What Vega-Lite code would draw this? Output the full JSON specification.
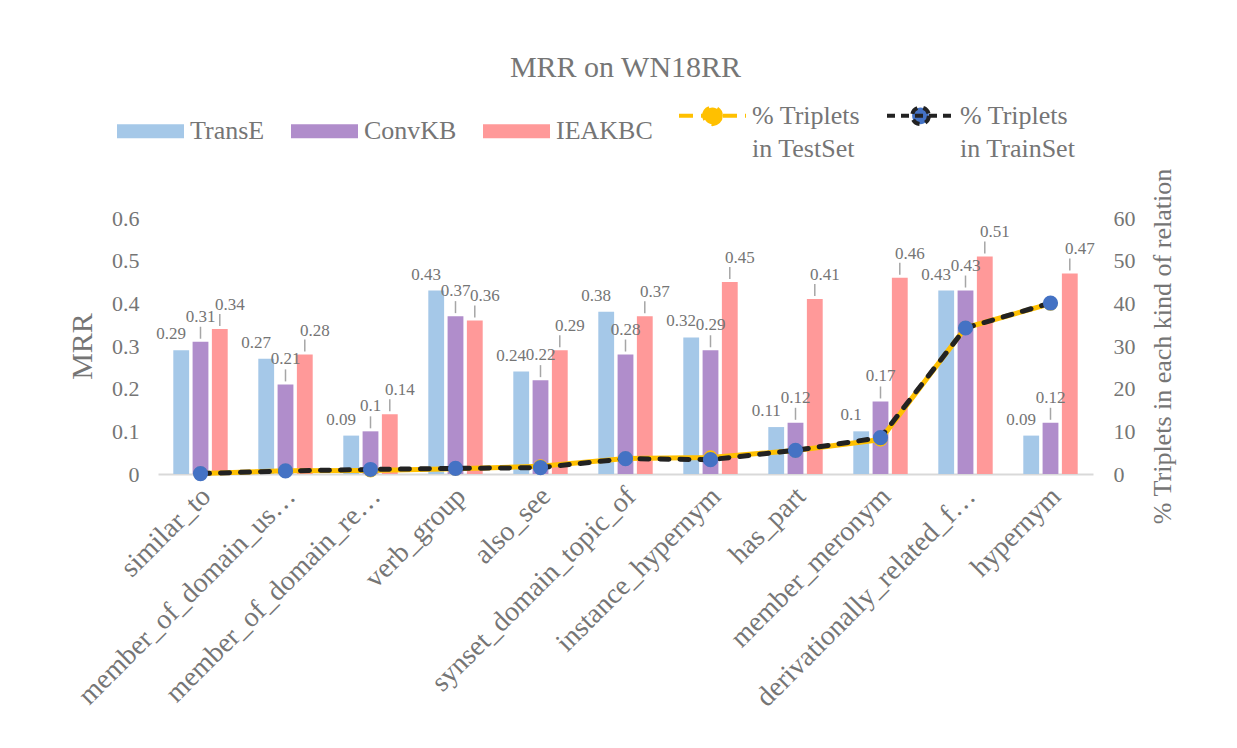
{
  "$schema": "https://vega.github.io/schema/vega-lite/v6.json",
  "width": 935,
  "height": 256,
  "autosize": "none",
  "padding": {"left": 158, "top": 218, "right": 144, "bottom": 274},
  "background": "white",
  "title": {"text": "MRR on WN18RR", "font": "Liberation Serif", "fontSize": 30, "fontWeight": "normal", "color": "#767676", "offset": -3, "anchor": "middle"},
  "datasets": {
    "bars": [
      {"rel": "similar_to", "series": "TransE", "mrr": 0.29},
      {"rel": "similar_to", "series": "ConvKB", "mrr": 0.31},
      {"rel": "similar_to", "series": "IEAKBC", "mrr": 0.34},
      {"rel": "member_of_domain_us…", "series": "TransE", "mrr": 0.27},
      {"rel": "member_of_domain_us…", "series": "ConvKB", "mrr": 0.21},
      {"rel": "member_of_domain_us…", "series": "IEAKBC", "mrr": 0.28},
      {"rel": "member_of_domain_re…", "series": "TransE", "mrr": 0.09},
      {"rel": "member_of_domain_re…", "series": "ConvKB", "mrr": 0.1},
      {"rel": "member_of_domain_re…", "series": "IEAKBC", "mrr": 0.14},
      {"rel": "verb_group", "series": "TransE", "mrr": 0.43},
      {"rel": "verb_group", "series": "ConvKB", "mrr": 0.37},
      {"rel": "verb_group", "series": "IEAKBC", "mrr": 0.36},
      {"rel": "also_see", "series": "TransE", "mrr": 0.24},
      {"rel": "also_see", "series": "ConvKB", "mrr": 0.22},
      {"rel": "also_see", "series": "IEAKBC", "mrr": 0.29},
      {"rel": "synset_domain_topic_of", "series": "TransE", "mrr": 0.38},
      {"rel": "synset_domain_topic_of", "series": "ConvKB", "mrr": 0.28},
      {"rel": "synset_domain_topic_of", "series": "IEAKBC", "mrr": 0.37},
      {"rel": "instance_hypernym", "series": "TransE", "mrr": 0.32},
      {"rel": "instance_hypernym", "series": "ConvKB", "mrr": 0.29},
      {"rel": "instance_hypernym", "series": "IEAKBC", "mrr": 0.45},
      {"rel": "has_part", "series": "TransE", "mrr": 0.11},
      {"rel": "has_part", "series": "ConvKB", "mrr": 0.12},
      {"rel": "has_part", "series": "IEAKBC", "mrr": 0.41},
      {"rel": "member_meronym", "series": "TransE", "mrr": 0.1},
      {"rel": "member_meronym", "series": "ConvKB", "mrr": 0.17},
      {"rel": "member_meronym", "series": "IEAKBC", "mrr": 0.46},
      {"rel": "derivationally_related_f…", "series": "TransE", "mrr": 0.43},
      {"rel": "derivationally_related_f…", "series": "ConvKB", "mrr": 0.43},
      {"rel": "derivationally_related_f…", "series": "IEAKBC", "mrr": 0.51},
      {"rel": "hypernym", "series": "TransE", "mrr": 0.09},
      {"rel": "hypernym", "series": "ConvKB", "mrr": 0.12},
      {"rel": "hypernym", "series": "IEAKBC", "mrr": 0.47}
    ],
    "lines": [
      {"rel": "similar_to", "series": "% Triplets in TestSet", "pct": 0.1},
      {"rel": "member_of_domain_us…", "series": "% Triplets in TestSet", "pct": 0.77},
      {"rel": "member_of_domain_re…", "series": "% Triplets in TestSet", "pct": 0.83},
      {"rel": "verb_group", "series": "% Triplets in TestSet", "pct": 1.24},
      {"rel": "also_see", "series": "% Triplets in TestSet", "pct": 1.79},
      {"rel": "synset_domain_topic_of", "series": "% Triplets in TestSet", "pct": 3.64},
      {"rel": "instance_hypernym", "series": "% Triplets in TestSet", "pct": 3.89},
      {"rel": "has_part", "series": "% Triplets in TestSet", "pct": 5.49},
      {"rel": "member_meronym", "series": "% Triplets in TestSet", "pct": 8.07},
      {"rel": "derivationally_related_f…", "series": "% Triplets in TestSet", "pct": 34.27},
      {"rel": "hypernym", "series": "% Triplets in TestSet", "pct": 39.92},
      {"rel": "similar_to", "series": "% Triplets in TrainSet", "pct": 0.09},
      {"rel": "member_of_domain_us…", "series": "% Triplets in TrainSet", "pct": 0.72},
      {"rel": "member_of_domain_re…", "series": "% Triplets in TrainSet", "pct": 1.06},
      {"rel": "verb_group", "series": "% Triplets in TrainSet", "pct": 1.31},
      {"rel": "also_see", "series": "% Triplets in TrainSet", "pct": 1.5},
      {"rel": "synset_domain_topic_of", "series": "% Triplets in TrainSet", "pct": 3.59},
      {"rel": "instance_hypernym", "series": "% Triplets in TrainSet", "pct": 3.36},
      {"rel": "has_part", "series": "% Triplets in TrainSet", "pct": 5.55},
      {"rel": "member_meronym", "series": "% Triplets in TrainSet", "pct": 8.52},
      {"rel": "derivationally_related_f…", "series": "% Triplets in TrainSet", "pct": 34.22},
      {"rel": "hypernym", "series": "% Triplets in TrainSet", "pct": 40.07}
    ]
  },
  "encoding": {
    "x": {
      "field": "rel", "type": "nominal", "title": null,
      "scale": {"domain": ["similar_to", "member_of_domain_us…", "member_of_domain_re…", "verb_group", "also_see", "synset_domain_topic_of", "instance_hypernym", "has_part", "member_meronym", "derivationally_related_f…", "hypernym"], "paddingInner": 0.36, "paddingOuter": 0.18},
      "axis": {"labelAngle": -45, "labelFont": "Liberation Serif", "labelFontSize": 28, "labelColor": "#757575", "labelLimit": 400, "labelPadding": 8, "labelOffset": -4, "ticks": false, "domainColor": "#D9D9D9", "domainWidth": 2, "grid": false}
    }
  },
  "layer": [
    {
      "data": {"name": "bars"},
      "encoding": {
        "y": {"field": "mrr", "type": "quantitative", "title": "MRR",
          "scale": {"domain": [0, 0.6]},
          "axis": {"values": [0, 0.1, 0.2, 0.3, 0.4, 0.5, 0.6], "format": "~g", "domain": false, "ticks": false, "grid": false, "labelFont": "Liberation Serif", "labelFontSize": 22, "labelColor": "#757575", "labelPadding": 19, "titleFont": "Liberation Serif", "titleFontSize": 30, "titleFontWeight": "normal", "titleColor": "#757575", "titlePadding": 14}
        },
        "xOffset": {"field": "series", "type": "nominal", "scale": {"domain": ["TransE", "ConvKB", "IEAKBC"], "paddingInner": 0.18, "paddingOuter": 0}}
      },
      "layer": [
        {
          "mark": {"type": "bar"},
          "encoding": {
            "color": {"field": "series", "type": "nominal",
              "scale": {"domain": ["TransE", "ConvKB", "IEAKBC", "% Triplets in TestSet", "% Triplets in TrainSet"], "range": ["#A5C8E8", "#B08DCB", "#FF9999", "#FFC000", "#4472C4"]},
              "legend": {
                "orient": "none", "legendX": -43, "legendY": -138, "direction": "horizontal", "columns": 5, "title": null, "padding": 0,
                "symbolSize": 4489, "labelOffset": 4, "columnPadding": 18,
                "labelFont": "Liberation Serif", "labelFontSize": 26, "labelColor": "#757575", "labelLimit": 400,
                "labelExpr": "datum.label == '% Triplets in TestSet' ? ['% Triplets  \u00a0\u00a0\u00a0\u00a0', 'in TestSet'] : datum.label == '% Triplets in TrainSet' ? ['% Triplets', 'in TrainSet'] : datum.label == 'IEAKBC' ? 'IEAKBC             \u00a0\u00a0\u00a0\u00a0' : datum.label",
                "encode": {
                  "labels": {"update": {"lineHeight": {"value": 33}}},
                  "symbols": {"update": {
                    "shape": {"signal": "indexof(['TransE','ConvKB','IEAKBC'], datum.value) >= 0 ? 'M-1,-0.21H1V0.21H-1Z' : 'M-1,0H1M0.25,0A0.25,0.25 0 1 1 -0.25,0A0.25,0.25 0 1 1 0.25,0Z'"},
                    "stroke": {"signal": "datum.value == '% Triplets in TestSet' ? '#FFC000' : datum.value == '% Triplets in TrainSet' ? '#222222' : 'transparent'"},
                    "strokeWidth": {"value": 4},
                    "strokeDash": {"signal": "datum.value == '% Triplets in TestSet' ? [14, 8] : datum.value == '% Triplets in TrainSet' ? [8, 6] : [1, 0]"},
                    "opacity": {"value": 1}
                  }}
                }
              }
            }
          }
        },
        {
          "transform": [{"filter": "datum.series != 'TransE'"}],
          "mark": {"type": "rule", "color": "#A6A6A6", "strokeWidth": 1.5, "yOffset": -3, "y2Offset": -15},
          "encoding": {"y2": {"field": "mrr"}}
        },
        {
          "transform": [{"filter": "datum.series == 'TransE'"}],
          "mark": {"type": "text", "font": "Liberation Serif", "fontSize": 17, "color": "#757575", "dx": -10, "dy": -16},
          "encoding": {"text": {"field": "mrr", "type": "quantitative"}}
        },
        {
          "transform": [{"filter": "datum.series == 'ConvKB'"}],
          "mark": {"type": "text", "font": "Liberation Serif", "fontSize": 17, "color": "#757575", "dx": 0, "dy": -25},
          "encoding": {"text": {"field": "mrr", "type": "quantitative"}}
        },
        {
          "transform": [{"filter": "datum.series == 'IEAKBC'"}],
          "mark": {"type": "text", "font": "Liberation Serif", "fontSize": 17, "color": "#757575", "dx": 10, "dy": -24},
          "encoding": {"text": {"field": "mrr", "type": "quantitative"}}
        }
      ]
    },
    {
      "data": {"name": "lines"},
      "encoding": {
        "y": {"field": "pct", "type": "quantitative", "title": "% Triplets in each kind of relation",
          "scale": {"domain": [0, 60]},
          "axis": {"orient": "right", "values": [0, 10, 20, 30, 40, 50, 60], "domain": false, "ticks": false, "grid": false, "labelFont": "Liberation Serif", "labelFontSize": 22, "labelColor": "#757575", "labelPadding": 20, "titleFont": "Liberation Serif", "titleFontSize": 26, "titleFontWeight": "normal", "titleColor": "#757575", "titlePadding": 14, "titleAngle": 270, "titleBaseline": "top"}
        }
      },
      "layer": [
        {
          "transform": [{"filter": "datum.series == '% Triplets in TestSet'"}],
          "mark": {"type": "line", "strokeWidth": 5, "strokeCap": "round", "color": "#FFC000"},
          "encoding": {}
        },
        {
          "transform": [{"filter": "datum.series == '% Triplets in TestSet'"}],
          "mark": {"type": "point", "filled": true, "size": 200, "fill": "#FFC000", "opacity": 1},
          "encoding": {}
        },
        {
          "transform": [{"filter": "datum.series == '% Triplets in TrainSet'"}],
          "mark": {"type": "line", "strokeWidth": 5, "strokeCap": "round", "strokeDash": [9, 11], "color": "#222222"},
          "encoding": {}
        },
        {
          "transform": [{"filter": "datum.series == '% Triplets in TrainSet'"}],
          "mark": {"type": "point", "filled": true, "size": 230, "fill": "#4472C4", "opacity": 1},
          "encoding": {}
        }
      ]
    }
  ],
  "resolve": {"scale": {"y": "independent"}},
  "config": {"view": {"stroke": null}}
}
